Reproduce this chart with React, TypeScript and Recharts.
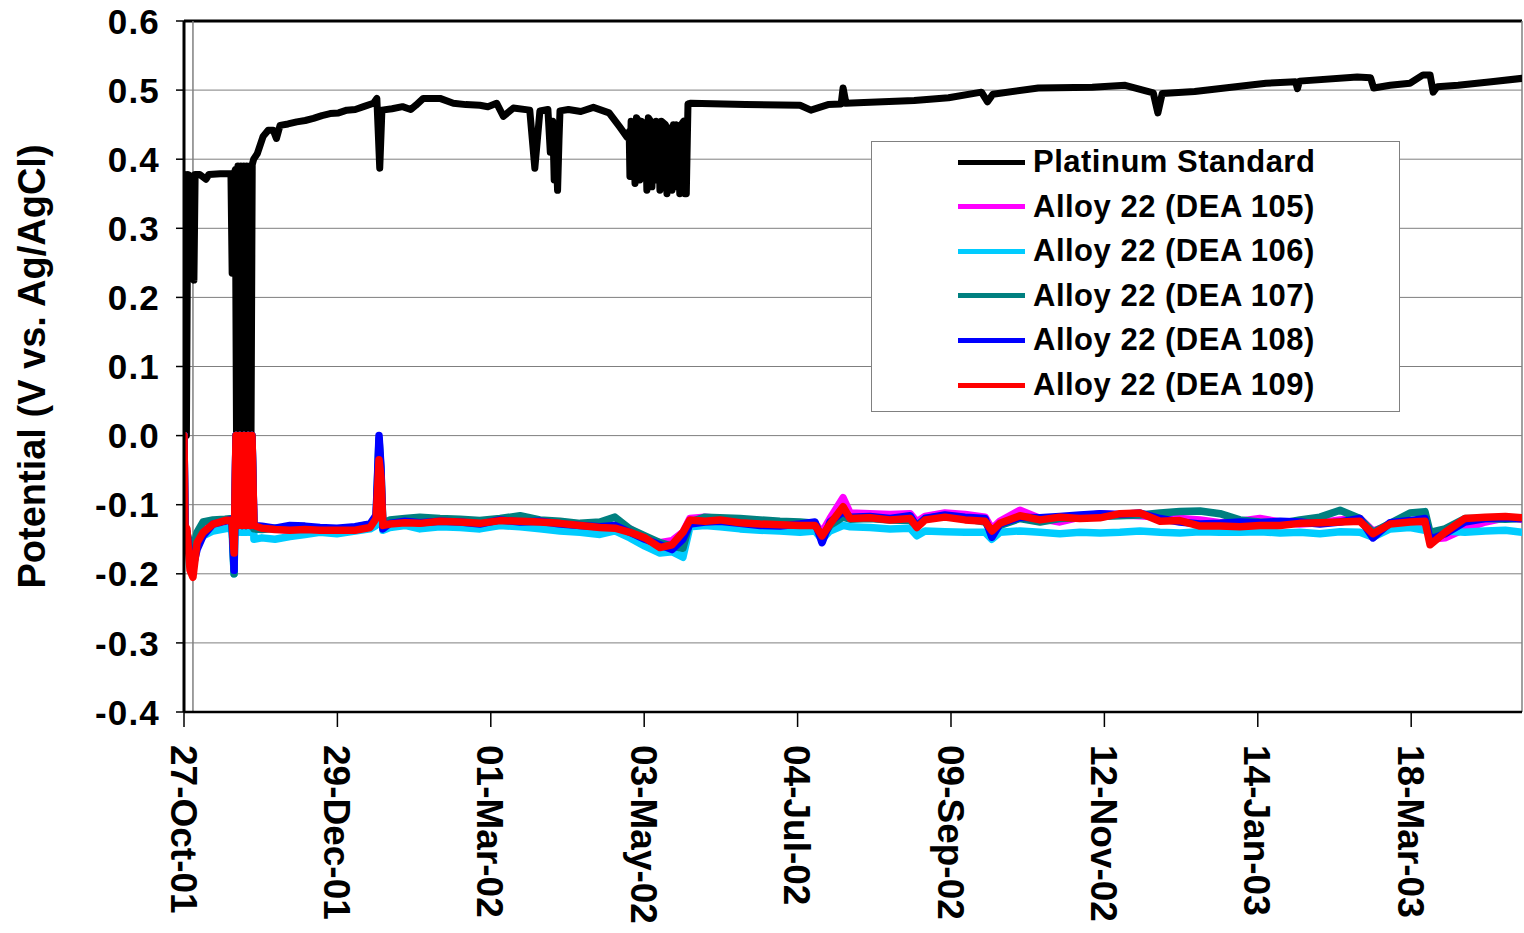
import React from "react";
import {
  LineChart,
  Line,
  XAxis,
  YAxis,
  CartesianGrid,
  ReferenceLine,
  Legend,
} from "recharts";

const FONT = '"Liberation Sans", Arial, sans-serif';

// x values are days since 27-Oct-01
const tickDays = [0, 63.4, 126.8, 190.2, 253.6, 317.0, 380.4, 443.8, 507.2];
const tickLabels = [
  "27-Oct-01",
  "29-Dec-01",
  "01-Mar-02",
  "03-May-02",
  "04-Jul-02",
  "09-Sep-02",
  "12-Nov-02",
  "14-Jan-03",
  "18-Mar-03",
];
const yTicks = [-0.4, -0.3, -0.2, -0.1, 0, 0.1, 0.2, 0.3, 0.4, 0.5, 0.6];

// Platinum reference electrode
const platDays = [
  0, 0.3, 1.0, 1.6, 2.5, 3.0, 3.5, 4.1, 4.6, 6.5, 9.1, 10.3, 15.0, 19.4, 19.9,
  20.5, 21.2,
  21.7, 22.3, 22.9, 23.5, 24.1, 24.7, 25.3, 25.9, 26.5, 27.1, 27.7,
  28.2, 28.8, 30.3, 32.7, 34.8, 36.9, 38.2, 39.7, 43.0, 46.6, 50.1, 53.5, 57.0,
  60.4, 63.9, 67.3, 70.8, 74.2,
  78.3, 79.7, 80.9, 81.8, 86.0, 90.3, 93.7, 95.8, 98.9, 105.8, 111.3, 116.5,
  122.3, 125.6, 129.2, 132.0, 136.1, 142.9, 145.0,
  147.1, 150.4, 151.4, 152.4, 153.0, 153.6, 154.4, 155.0, 155.4, 158.9, 164.0,
  169.2, 175.7, 180.0, 183.1,
  184.0, 184.3, 184.8, 185.8, 186.4, 187.0, 187.9, 188.4, 189.0, 190.7, 191.3,
  191.9, 192.9, 193.4, 194.0, 194.6, 195.2, 196.2, 196.7, 197.3, 199.0, 199.6,
  200.2, 201.2, 201.7, 202.3, 202.9, 203.5, 204.4, 204.9, 205.5, 206.5, 207.0,
  207.6, 208.3,
  209.5, 232.0, 254.6, 259.1, 266.2, 271.6, 272.4, 273.6, 281.0, 301.8, 316.0,
  329.6, 332.1, 334.3, 353.1, 375.4, 389.0, 400.6, 402.5, 404.3, 417.7, 440.0,
  447.2, 459.4, 460.2, 461.0, 484.9, 490.4, 491.7, 498.5, 506.7, 512.1, 515.0,
  516.3, 518.0, 526.6, 540.3, 553.0,
];
const platValues = [
  0.0, 0.378, 0.0, 0.378, 0.376, 0.23, 0.375, 0.225, 0.378, 0.378, 0.371, 0.378,
  0.379, 0.379, 0.235, 0.375, 0.385,
  0.0, 0.39, 0.0, 0.39, 0.0, 0.39, 0.0, 0.39, 0.0, 0.39, 0.0,
  0.392, 0.4, 0.408, 0.433, 0.442, 0.442, 0.43, 0.449, 0.451, 0.454, 0.456,
  0.459, 0.463, 0.466, 0.467, 0.471, 0.472, 0.476,
  0.481, 0.488, 0.387, 0.471, 0.473, 0.476, 0.472, 0.478, 0.488, 0.488, 0.481,
  0.479, 0.478, 0.476, 0.481, 0.462, 0.474, 0.471, 0.387,
  0.47, 0.472, 0.41, 0.455, 0.37, 0.44, 0.355, 0.43, 0.47, 0.472, 0.469, 0.475,
  0.467, 0.447, 0.432,
  0.44, 0.375, 0.455, 0.45, 0.365, 0.46, 0.455, 0.37, 0.455, 0.45, 0.355, 0.46,
  0.455, 0.36, 0.45, 0.37, 0.455, 0.45, 0.355, 0.455, 0.45, 0.35, 0.445, 0.445,
  0.355, 0.45, 0.36, 0.45, 0.44, 0.35, 0.45, 0.455, 0.35, 0.35, 0.48,
  0.481, 0.479, 0.478, 0.471, 0.479, 0.48, 0.503, 0.481, 0.482, 0.485, 0.489,
  0.497, 0.483, 0.494, 0.503, 0.504, 0.507, 0.496, 0.467, 0.495, 0.498, 0.507,
  0.51, 0.512, 0.502, 0.513, 0.519, 0.518, 0.503, 0.507, 0.51, 0.522, 0.522,
  0.497, 0.505, 0.507, 0.512, 0.517,
];

// Alloy 22 specimens share one sampling grid
const alloyDays = [
  0, 0.4, 1.2, 2.5, 3.7, 5.4, 7.9, 12.0, 16.9, 19.8, 20.7, 21.5, 22.3, 23.1,
  24.0, 24.8, 25.6, 26.5, 27.3, 28.1, 28.9, 32.2, 37.6, 43.8, 50.0, 56.2, 63.2,
  70.7, 76.9, 79.4, 80.6, 81.4, 82.2, 85.1, 91.3, 97.5, 105.8, 114.1, 122.3,
  130.6, 138.9, 147.1, 155.4, 163.7, 171.9, 178.1, 184.3, 190.5, 196.7, 201.7,
  206.2, 209.1, 215.3, 221.5, 229.8, 238.1, 246.3, 254.6, 260.8, 263.7, 267.0,
  272.4, 275.3, 283.5, 291.8, 300.1, 302.9, 306.3, 314.5, 322.8, 331.1, 333.9,
  337.2, 345.5, 353.8, 362.0, 370.3, 378.6, 386.8, 395.1, 403.4, 411.6, 419.9,
  428.2, 436.4, 444.7, 453.0, 461.2, 469.5, 477.8, 486.0, 491.4, 498.5, 506.7,
  512.9, 515.0, 521.2, 529.4, 537.8, 546.1, 553.0,
];
const dea105 = [
  0.0, -0.13, -0.14, -0.17, -0.185, -0.15, -0.138, -0.127, -0.123, -0.122,
  -0.18, 0.0, -0.13, 0.0, -0.13, 0.0, -0.13, 0.0, -0.13, 0.0,
  -0.132, -0.133, -0.135, -0.137, -0.138, -0.136, -0.138, -0.137, -0.133, -0.12,
  -0.03, -0.08, -0.13, -0.127, -0.125, -0.126, -0.122, -0.124, -0.126, -0.122,
  -0.123, -0.125, -0.126, -0.128, -0.132, -0.13, -0.135, -0.15, -0.155, -0.152,
  -0.14, -0.12, -0.118, -0.12, -0.123, -0.124, -0.126, -0.128, -0.127, -0.14,
  -0.12, -0.09, -0.112, -0.113, -0.114, -0.113, -0.125, -0.117, -0.112, -0.114,
  -0.118, -0.135, -0.124, -0.108, -0.12, -0.125, -0.118, -0.113, -0.115, -0.116,
  -0.118, -0.12, -0.122, -0.126, -0.124, -0.12, -0.125, -0.128, -0.126, -0.122,
  -0.12, -0.138, -0.13, -0.127, -0.126, -0.15, -0.148, -0.135, -0.125, -0.119, -0.121,
];
const dea106 = [
  0.0, -0.14, -0.145, -0.16, -0.17, -0.158, -0.145, -0.138, -0.135, -0.133,
  -0.2, 0.0, -0.14, 0.0, -0.14, 0.0, -0.14, 0.0, -0.14, 0.0,
  -0.15, -0.148, -0.15, -0.146, -0.143, -0.14, -0.142, -0.138, -0.135, -0.13,
  -0.03, -0.08, -0.137, -0.133, -0.13, -0.135, -0.132, -0.133, -0.135, -0.13,
  -0.132, -0.135, -0.138, -0.14, -0.143, -0.138, -0.148, -0.16, -0.17, -0.168,
  -0.176, -0.132, -0.13, -0.132, -0.135, -0.137, -0.138, -0.14, -0.138, -0.15,
  -0.138, -0.13, -0.132, -0.133, -0.135, -0.134, -0.145, -0.138, -0.139, -0.14,
  -0.14, -0.15, -0.14, -0.138, -0.14, -0.142, -0.14, -0.141, -0.14, -0.138,
  -0.14, -0.141, -0.139, -0.14, -0.14, -0.139, -0.141, -0.14, -0.142, -0.139,
  -0.14, -0.147, -0.135, -0.133, -0.137, -0.14, -0.138, -0.14, -0.138, -0.137, -0.14,
];
const dea107 = [
  0.0, -0.13, -0.14, -0.16, -0.165, -0.14, -0.125, -0.122, -0.121, -0.12,
  -0.2, 0.0, -0.13, 0.0, -0.13, 0.0, -0.13, 0.0, -0.13, 0.0,
  -0.135, -0.136, -0.134, -0.136, -0.135, -0.134, -0.136, -0.133, -0.128, -0.118,
  -0.005, -0.05, -0.128, -0.122, -0.12, -0.118, -0.12, -0.121, -0.123, -0.12,
  -0.116, -0.122, -0.124, -0.127, -0.125, -0.118, -0.135, -0.145, -0.155, -0.16,
  -0.163, -0.125, -0.118, -0.119, -0.12, -0.122, -0.124, -0.125, -0.127, -0.148,
  -0.13, -0.118, -0.121, -0.12, -0.122, -0.123, -0.13, -0.12, -0.116, -0.12,
  -0.125, -0.14, -0.13, -0.12, -0.125, -0.12, -0.119, -0.117, -0.116, -0.115,
  -0.112, -0.11, -0.109, -0.113, -0.122, -0.125, -0.127, -0.122, -0.118, -0.108,
  -0.12, -0.14, -0.127, -0.112, -0.11, -0.14, -0.135, -0.12, -0.12, -0.121, -0.12,
];
const dea108 = [
  0.0, -0.13, -0.14, -0.175, -0.19, -0.165, -0.145, -0.128, -0.124, -0.121,
  -0.195, 0.0, -0.13, 0.0, -0.13, 0.0, -0.13, 0.0, -0.13, 0.0,
  -0.13, -0.131, -0.134, -0.13, -0.131, -0.133, -0.134, -0.132, -0.128, -0.115,
  0.0, -0.045, -0.135, -0.127, -0.124, -0.126, -0.124, -0.125, -0.128, -0.122,
  -0.125, -0.124, -0.128, -0.13, -0.132, -0.13, -0.14, -0.15, -0.158, -0.165,
  -0.15, -0.128, -0.125, -0.124, -0.127, -0.13, -0.131, -0.128, -0.125, -0.155,
  -0.125, -0.11, -0.118, -0.117, -0.12, -0.116, -0.132, -0.12, -0.115, -0.118,
  -0.12, -0.147, -0.128, -0.118, -0.119, -0.117, -0.115, -0.113, -0.114, -0.112,
  -0.12, -0.125, -0.128, -0.127, -0.125, -0.126, -0.124, -0.125, -0.128, -0.125,
  -0.12, -0.148, -0.126, -0.123, -0.12, -0.15, -0.142, -0.125, -0.12, -0.119, -0.12,
];
const dea109 = [
  0.0, -0.13, -0.135, -0.195, -0.205, -0.155, -0.14, -0.128, -0.123, -0.122,
  -0.17, 0.0, -0.13, 0.0, -0.13, 0.0, -0.13, 0.0, -0.13, 0.0,
  -0.13, -0.134, -0.136, -0.137, -0.136, -0.137, -0.137, -0.137, -0.133, -0.12,
  -0.035, -0.06, -0.13, -0.128, -0.126, -0.127, -0.124, -0.125, -0.127, -0.123,
  -0.124, -0.125, -0.127, -0.13, -0.133, -0.134, -0.14, -0.148, -0.162, -0.158,
  -0.14, -0.122, -0.124, -0.122, -0.126, -0.128, -0.129, -0.13, -0.13, -0.145,
  -0.128, -0.103, -0.12, -0.119, -0.122, -0.12, -0.133, -0.122, -0.118, -0.122,
  -0.124, -0.138, -0.127, -0.116, -0.122, -0.118, -0.12, -0.119, -0.113, -0.112,
  -0.124, -0.123, -0.131, -0.131, -0.132, -0.13, -0.13, -0.127, -0.126, -0.125,
  -0.124, -0.142, -0.128, -0.125, -0.124, -0.158, -0.14, -0.12, -0.118, -0.117, -0.119,
];

const series = [
  { name: "Platinum Standard", color: "#000000", width: 7, days: platDays, values: platValues },
  { name: "Alloy 22 (DEA 105)", color: "#FF00FF", width: 7.5, days: alloyDays, values: dea105 },
  { name: "Alloy 22 (DEA 106)", color: "#00CCFF", width: 7.5, days: alloyDays, values: dea106 },
  { name: "Alloy 22 (DEA 107)", color: "#008080", width: 7.5, days: alloyDays, values: dea107 },
  { name: "Alloy 22 (DEA 108)", color: "#0000FF", width: 7.5, days: alloyDays, values: dea108 },
  { name: "Alloy 22 (DEA 109)", color: "#FF0000", width: 7.5, days: alloyDays, values: dea109 },
];

const YTick = (props: any) => {
  const { x, y, payload } = props;
  return (
    <text
      x={x}
      y={y}
      dy="0.36em"
      textAnchor="end"
      fontFamily={FONT}
      fontWeight="bold"
      fontSize={35}
      letterSpacing={1.2}
      fill="#000"
    >
      {payload.value.toFixed(1)}
    </text>
  );
};

const XTick = (props: any) => {
  const { x, y, payload } = props;
  const i = tickDays.indexOf(payload.value);
  return (
    <g transform={`translate(${x},${y})`}>
      <text
        transform="rotate(90)"
        dy="0.36em"
        textAnchor="start"
        fontFamily={FONT}
        fontWeight="bold"
        fontSize={37}
        fill="#000"
      >
        {tickLabels[i] ?? ""}
      </text>
    </g>
  );
};

const YLabel = (props: any) => {
  const vb = props.viewBox ?? { x: 0, y: 21, height: 691 };
  const cx = 31;
  const cy = vb.y + vb.height / 2;
  return (
    <text
      x={cx}
      y={cy}
      dy="0.36em"
      textAnchor="middle"
      transform={`rotate(-90, ${cx}, ${cy})`}
      fontFamily={FONT}
      fontWeight="bold"
      fontSize={38}
      fill="#000"
    >
      Potential (V vs. Ag/AgCl)
    </text>
  );
};

const LegendBox = () => (
  <div
    style={{
      width: 529,
      height: 271,
      boxSizing: "border-box",
      border: "1px solid #808080",
      background: "#fff",
      position: "relative",
    }}
  >
    {series.map((s, i) => (
      <div
        key={s.name}
        style={{
          position: "absolute",
          left: 86,
          top: 20 + i * 44.6 - 16,
          height: 32,
          display: "flex",
          alignItems: "center",
        }}
      >
        <span style={{ display: "inline-block", width: 67, height: 5, background: s.color }} />
        <span
          style={{
            marginLeft: 8,
            fontFamily: FONT,
            fontWeight: "bold",
            fontSize: 31,
            letterSpacing: 0.5,
            lineHeight: "32px",
            color: "#000",
            whiteSpace: "nowrap",
          }}
        >
          {s.name}
        </span>
      </div>
    ))}
  </div>
);

export default function App() {
  return (
    <div style={{ position: "absolute", left: 0, top: 0, width: 1524, height: 933, background: "#fff" }}>
      <LineChart width={1524} height={933} margin={{ top: 21, right: 2, left: 0, bottom: 0 }}>
        <CartesianGrid vertical={false} stroke="#7f7f7f" strokeWidth={1} />
        <XAxis
          dataKey="d"
          type="number"
          domain={[0, 553]}
          ticks={tickDays}
          interval={0}
          allowDataOverflow
          height={221}
          tickSize={15}
          tickMargin={18}
          tick={<XTick />}
          axisLine={{ stroke: "#000", strokeWidth: 2.5 }}
          tickLine={{ stroke: "#000", strokeWidth: 1.5 }}
        />
        <YAxis
          type="number"
          domain={[-0.4, 0.6]}
          ticks={yTicks}
          interval={0}
          allowDataOverflow
          width={184}
          tickSize={8}
          tickMargin={16}
          tick={<YTick />}
          axisLine={{ stroke: "#000", strokeWidth: 3 }}
          tickLine={{ stroke: "#000", strokeWidth: 1.5 }}
          label={<YLabel />}
        />
        <ReferenceLine y={0.6} stroke="#000" strokeWidth={3} />
        <ReferenceLine x={3.7} stroke="#808080" strokeWidth={1.5} />
        <ReferenceLine x={553} stroke="#808080" strokeWidth={1.5} />
        {series.map((s) => (
          <Line
            key={s.name}
            name={s.name}
            data={s.days.map((d, i) => ({ d, v: s.values[i] }))}
            dataKey="v"
            type="linear"
            stroke={s.color}
            strokeWidth={s.width}
            strokeLinejoin="round"
            strokeLinecap="round"
            dot={false}
            isAnimationActive={false}
          />
        ))}
        <Legend
          layout="vertical"
          align="center"
          verticalAlign="middle"
          content={<LegendBox />}
          wrapperStyle={{ position: "absolute", left: 871, top: 141, width: 529, height: 271 }}
        />
      </LineChart>
    </div>
  );
}
